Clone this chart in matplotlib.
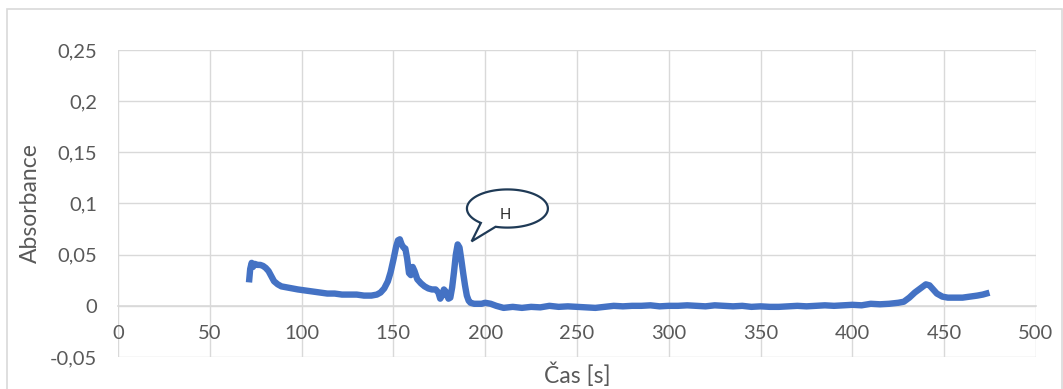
import numpy as np
import matplotlib
matplotlib.use("Agg")
import matplotlib.pyplot as plt
from matplotlib.patches import Polygon, Rectangle

plt.rcParams['font.family'] = ['Lato', 'DejaVu Sans']

# data (time in s, absorbance)
time_s = [71.5, 72, 72.8, 73.5, 74.5, 76, 77.5, 79, 80.5, 82, 83.5, 85, 87, 89, 92, 95, 98,
          102, 106, 110, 114, 118, 122, 126, 130, 134, 138, 141, 143,
          145, 147, 148.5, 150, 151.5, 152.5, 153.5, 154.5, 155.5, 156.5, 157.5, 158.5, 159.5, 160.5, 161.5,
          163, 165, 167, 169, 171, 173, 174.5, 175.5, 176.5, 177.5, 178.5, 180, 181, 182, 183, 184, 185,
          186, 187, 188, 189, 190, 191, 192, 194, 196, 198, 200,
          203, 206, 210, 215, 220, 225, 230, 235, 240, 245, 250, 255, 260, 265, 270, 275, 280, 285, 290,
          295, 300, 305, 310, 315, 320, 325, 330, 335, 340, 345, 350, 355, 360, 365, 370, 375, 380, 385,
          390, 395, 400,
          405, 410, 415, 420, 425, 428, 431, 434, 437, 440, 442, 444, 446, 449, 452, 456, 460, 464, 468,
          471, 473]
absorbance = [0.026, 0.036, 0.042, 0.038, 0.041, 0.040, 0.040, 0.039, 0.037, 0.034, 0.029, 0.024, 0.021,
              0.019, 0.018, 0.017, 0.016,
              0.015, 0.014, 0.013, 0.012, 0.012, 0.011, 0.011, 0.011, 0.010, 0.010, 0.011, 0.013,
              0.017, 0.024, 0.033, 0.045, 0.058, 0.064, 0.065, 0.060, 0.057, 0.056, 0.046, 0.032, 0.030,
              0.038, 0.034,
              0.026, 0.022, 0.019, 0.017, 0.016, 0.016, 0.013, 0.007, 0.010, 0.016, 0.014, 0.007, 0.008,
              0.018, 0.033, 0.050, 0.060,
              0.057, 0.045, 0.032, 0.020, 0.010, 0.005, 0.003, 0.002, 0.002, 0.002, 0.003,
              0.002, 0.0, -0.002, -0.001, -0.002, -0.001, -0.0015, 0.0, -0.001, -0.0005, -0.001, -0.0015,
              -0.002, -0.001, 0.0, -0.0005, 0.0, 0.0, 0.0005,
              -0.0005, 0.0, 0.0, 0.0005, 0.0, -0.0005, 0.0005, 0.0, -0.0005, 0.0, -0.001, -0.0005, -0.001,
              -0.001, -0.0005, 0.0, -0.0005, 0.0, 0.0005,
              0.0, 0.0005, 0.001,
              0.0005, 0.002, 0.0015, 0.002, 0.003, 0.004, 0.008, 0.013, 0.017, 0.021, 0.020, 0.016, 0.012,
              0.009, 0.008, 0.008, 0.008, 0.009, 0.010,
              0.011, 0.012]

x_ticks = [0, 50, 100, 150, 200, 250, 300, 350, 400, 450, 500]
y_ticks = [-0.05, 0, 0.05, 0.1, 0.15, 0.2, 0.25]
y_tick_labels = ['-0,05', '0', '0,05', '0,1', '0,15', '0,2', '0,25']

callout_text = 'H'
callout_center = (212.1, 0.0951)
callout_tip = (192.6, 0.063)

grid_c = '#D9D9D9'
text_c = '#595959'

fig = plt.figure(figsize=(10.63, 3.89), dpi=100)
ax = fig.add_axes([118 / 1063, 1 - 357 / 389, 918 / 1063, 307 / 389])

# chart border
fig.patches.append(Rectangle((7 / 1063, -0.05), 1055 / 1063, 1.05 - 9 / 389,
                             transform=fig.transFigure, fill=False,
                             edgecolor=grid_c, linewidth=1.2))

ax.plot(time_s, absorbance, color='#4472C4', linewidth=4.6, solid_joinstyle='round', zorder=3)

ax.set_xlim(0, 500)
ax.set_ylim(-0.05, 0.25)
ax.set_xticks(x_ticks)
ax.set_xticklabels([str(v) for v in x_ticks])
ax.set_yticks(y_ticks)
ax.set_yticklabels(y_tick_labels)
ax.grid(True, color=grid_c, linewidth=1.0)
ax.set_axisbelow(True)

for s in ['top', 'right', 'left']:
    ax.spines[s].set_visible(False)
ax.spines['bottom'].set_position(('data', 0))
ax.spines['bottom'].set_color(grid_c)
ax.spines['bottom'].set_linewidth(1.2)

ax.tick_params(axis='x', length=0, pad=14, labelsize=14.5, labelcolor=text_c)
ax.tick_params(axis='y', length=0, pad=15, labelsize=14.5, labelcolor=text_c)

ax.set_xlabel('Čas [s]', fontsize=16.5, color=text_c)
ax.xaxis.set_label_coords(0.5, -0.058)
ax.xaxis.label.set_va('center')
ax.set_ylabel('Absorbance', fontsize=16.5, color=text_c)
ax.yaxis.set_label_coords(-(118 - 30) / 918, 0.5)
ax.yaxis.label.set_va('center')

# speech bubble callout
a, b = 22.05, 0.01865
ang = np.radians(np.linspace(253, 589, 120))
ex = callout_center[0] + a * np.cos(ang)
ey = callout_center[1] + b * np.sin(ang)
pts = np.column_stack([np.append(ex, callout_tip[0]), np.append(ey, callout_tip[1])])
ax.add_patch(Polygon(pts, closed=True, facecolor='white', edgecolor='#1F3A56',
                     linewidth=1.6, zorder=4, clip_on=False))
ax.text(callout_center[0] - 1, callout_center[1] - 0.006, callout_text, fontsize=10.5,
        color='#262626', ha='center', va='center', zorder=5)

fig.savefig('out.png', dpi=100)
